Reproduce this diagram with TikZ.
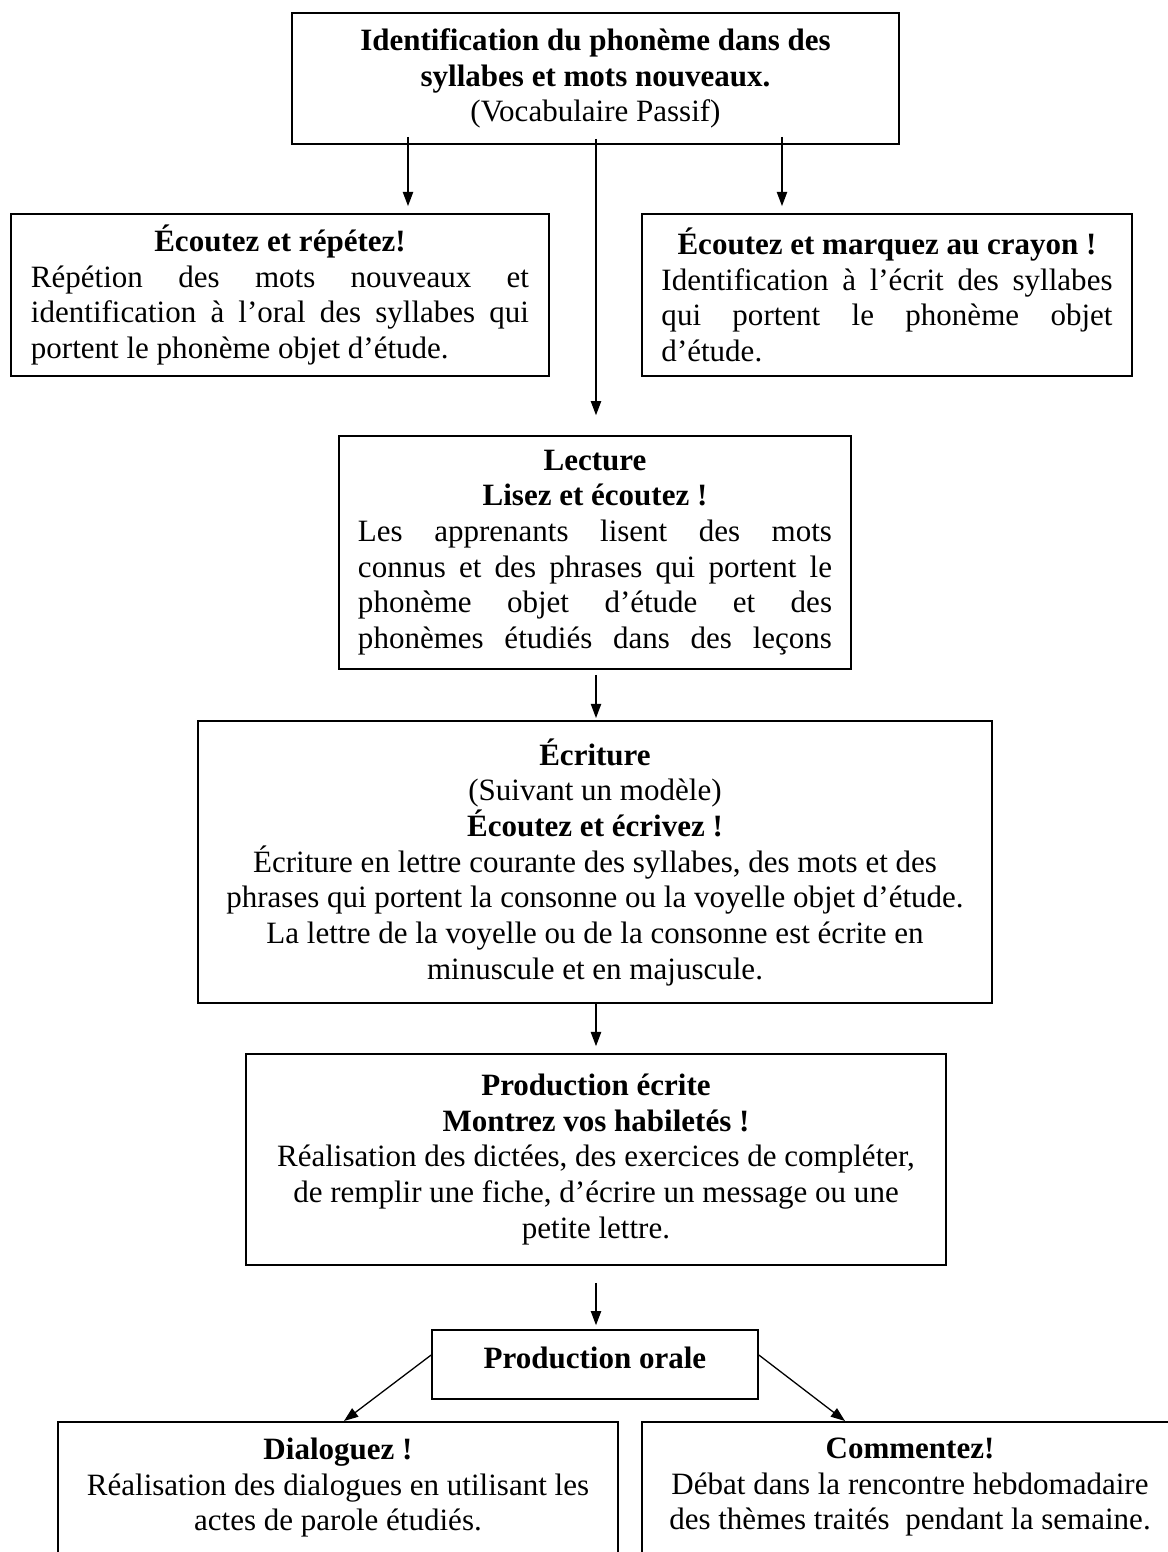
\documentclass[tikz,border=0pt]{standalone}
\usepackage{fontspec}
\setmainfont{Liberation Serif}
\usetikzlibrary{arrows.meta}
\usetikzlibrary{calc}

\begin{document}
\begin{tikzpicture}[x=0.3869pt,y=-0.3869pt,
  bloc/.style={draw,line width=0.7pt,inner sep=0pt,font=\fontsize{12}{13.8}\selectfont},
  fleche/.style={line width=0.5pt,-{Triangle[length=5.5pt,width=4pt]}}]
\useasboundingbox (0,0) rectangle (1168,1552);
\clip (0,0) rectangle (1168,1552);
\node[bloc,minimum width=234.8pt,minimum height=50.7pt,align=center] (ident) at (595.5,78.5)
  {\textbf{Identification du phonème dans des}\\\textbf{syllabes et mots nouveaux.}\\(Vocabulaire Passif)};
\node[bloc,minimum width=208.2pt,minimum height=62.7pt,text width=192.7pt,align=justify] (repet) at (280,295)
  {{\centering\bfseries Écoutez et répétez!\par}\leftskip=8.9pt Répétion des mots nouveaux et\linebreak identification à l’oral des syllabes qui\linebreak portent le phonème objet d’étude.};
\node[bloc,minimum width=189.6pt,minimum height=62.7pt,text width=174.5pt,align=justify] (marq) at (887,295)
  {{\centering\bfseries Écoutez et marquez au crayon !\par}Identification à l’écrit des syllabes\linebreak qui portent le phonème objet\linebreak d’étude.};
\node[bloc,minimum width=198.1pt,minimum height=90.1pt,text width=183.4pt,align=justify] (lect) at (595,552.5)
  {{\centering\bfseries Lecture\\Lisez et écoutez !\par}Les apprenants lisent des mots\linebreak connus et des phrases qui portent le\linebreak phonème objet d’étude et des\linebreak \makebox[\linewidth][s]{phonèmes étudiés dans des leçons}};
\node[bloc,minimum width=307.2pt,minimum height=109.1pt,align=center] (ecrit) at (595,862)
  {\textbf{Écriture}\\(Suivant un modèle)\\\textbf{Écoutez et écrivez !}\\Écriture en lettre courante des syllabes, des mots et des\\phrases qui portent la consonne ou la voyelle objet d’étude.\\La lettre de la voyelle ou de la consonne est écrite en\\minuscule et en majuscule.};
\node[bloc,minimum width=270.8pt,minimum height=81.6pt,align=center] (prodecr) at (596,1159.5)
  {\textbf{Production écrite}\\\textbf{Montrez vos habiletés !}\\Réalisation des dictées, des exercices de compléter,\\de remplir une fiche, d’écrire un message ou une\\petite lettre.};
\node[bloc,minimum width=126.1pt,minimum height=26.7pt,text depth=5pt] (prodor) at (595,1364.5) {\textbf{Production orale}};
\node[bloc,minimum width=216.7pt,inner ysep=6.2pt,align=center,anchor=north] (dialog) at (338,1421)
  {\textbf{Dialoguez !}\\Réalisation des dialogues en utilisant les\\actes de parole étudiés.\\\rule{0pt}{40pt}};
\node[bloc,minimum width=207.4pt,inner ysep=6.2pt,align=center,anchor=north] (comment) at (910,1421)
  {\textbf{Commentez!}\\Débat dans la rencontre hebdomadaire\\des thèmes traités\ \ pendant la semaine.\\\rule{0pt}{40pt}};
\draw[fleche,shorten <=-3.1pt,shorten >=2.7pt] (ident.south -| 408,0) -- (repet.north -| 408,0);
\draw[fleche,shorten <=-3.1pt,shorten >=2.7pt] (ident.south -| 782,0) -- (marq.north -| 782,0);
\draw[fleche,shorten <=-2.3pt,shorten >=7.7pt] (ident.south -| 596,0) -- (lect.north -| 596,0);
\draw[fleche,shorten <=1.9pt,shorten >=0.8pt] (lect.south -| 596,0) -- (ecrit.north -| 596,0);
\draw[fleche,shorten >=2.7pt] (ecrit.south -| 596,0) -- (prodecr.north -| 596,0);
\draw[fleche,shorten <=6.6pt,shorten >=1.5pt] (prodecr.south -| 596,0) -- (prodor.north -| 596,0);
\draw[fleche] ($(prodor.west)+(0,-9.5)$) -- (dialog.north -| 344,0);
\draw[fleche] ($(prodor.east)+(0,-9.5)$) -- (comment.north -| 845,0);
\end{tikzpicture}
\end{document}
